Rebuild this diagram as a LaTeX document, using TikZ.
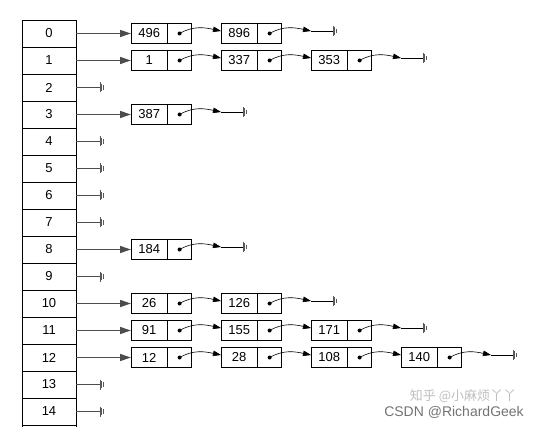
\documentclass[tikz,border=0pt]{standalone}
\usepackage{fontspec}
\setmainfont{Liberation Sans}
\newfontfamily\cjkfont{Noto Sans CJK SC}
\usetikzlibrary{arrows.meta, positioning}

\tikzset{
  slot/.style={draw, minimum width=54pt, minimum height=27pt, inner sep=0pt,
               font=\fontsize{13}{13}\selectfont},
  keybox/.style={draw, minimum width=36pt, minimum height=20pt, inner sep=0pt,
                 anchor=west, font=\fontsize{13}{13}\selectfont},
  ptrbox/.style={draw, minimum width=24pt, minimum height=20pt, inner sep=0pt},
  headarr/.style={-{Triangle[length=11pt,width=7pt]}, line width=1.3pt, color=black!70},
  nextarr/.style={-{Triangle[length=8pt,width=5.5pt]}, line width=0.6pt},
  nullend/.pic={
    \draw[line width=1pt, color=black!65]
      (0,-5) -- (0,5) (1.8,-3.6) -- (1.8,3.6) (3.6,-2.2) -- (3.6,2.2);
  }
}

\begin{document}
\begin{tikzpicture}[x=1pt, y=-1pt]
\useasboundingbox (0,0) rectangle (545,427);

% bucket table
\foreach \i in {0,...,14}
  \node[slot] (row\i) at (49, 33.5+27*\i) {\i};
\draw (row14.south west) -- ++(0,3) (row14.south east) -- ++(0,3);

% empty buckets
\foreach \i in {2,4,5,6,7,9,13,14} {
  \coordinate (gnd\i) at (100, 33.5+27*\i);
  \draw[line width=1.3pt, color=black!70] (row\i.east) -- (gnd\i);
  \pic at (gnd\i) {nullend};
}

% chained lists: row/length/values
\foreach \r/\n/\vals in {0/2/{496,896}, 1/3/{1,337,353}, 3/1/{387}, 8/1/{184},
    10/2/{26,126}, 11/3/{91,155,171}, 12/4/{12,28,108,140}} {
  \foreach \v [count=\k] in \vals {
    \node[keybox] (k\r-\k) at (131+90*\k-90, 33.5+27*\r) {\v};
    \node[ptrbox, right=0pt of k\r-\k] (p\r-\k) {};
    \fill (p\r-\k.center) circle (2pt);
  }
  \draw[headarr] (row\r.east) -- (k\r-1.west);
  \foreach \k [evaluate=\k as \j using int(\k+1)] in {1,...,\n} {
    \ifnum\k<\n
      \draw[nextarr] (p\r-\k.center) to[out=30, in=168] ([yshift=2.5pt]k\r-\j.west);
    \else
      \coordinate (tip\r) at (221+90*\n-90, 31+27*\r);
      \coordinate (end\r) at (243+90*\n-90, 31+27*\r);
      \draw[nextarr] (p\r-\k.center) to[out=30, in=168] (tip\r);
      \draw[line width=0.6pt] (tip\r) -- (end\r);
      \pic at (end\r) {nullend};
    \fi
  }
}

% watermark
\node[text=black!25, font=\cjkfont\fontsize{13}{13}\selectfont] (wm1) at (463,396) {知乎 @小麻烦丫丫};
\node[text=black!55, font=\fontsize{14}{14}\selectfont] (wm2) at (454,412) {CSDN @RichardGeek};
\end{tikzpicture}
\end{document}
